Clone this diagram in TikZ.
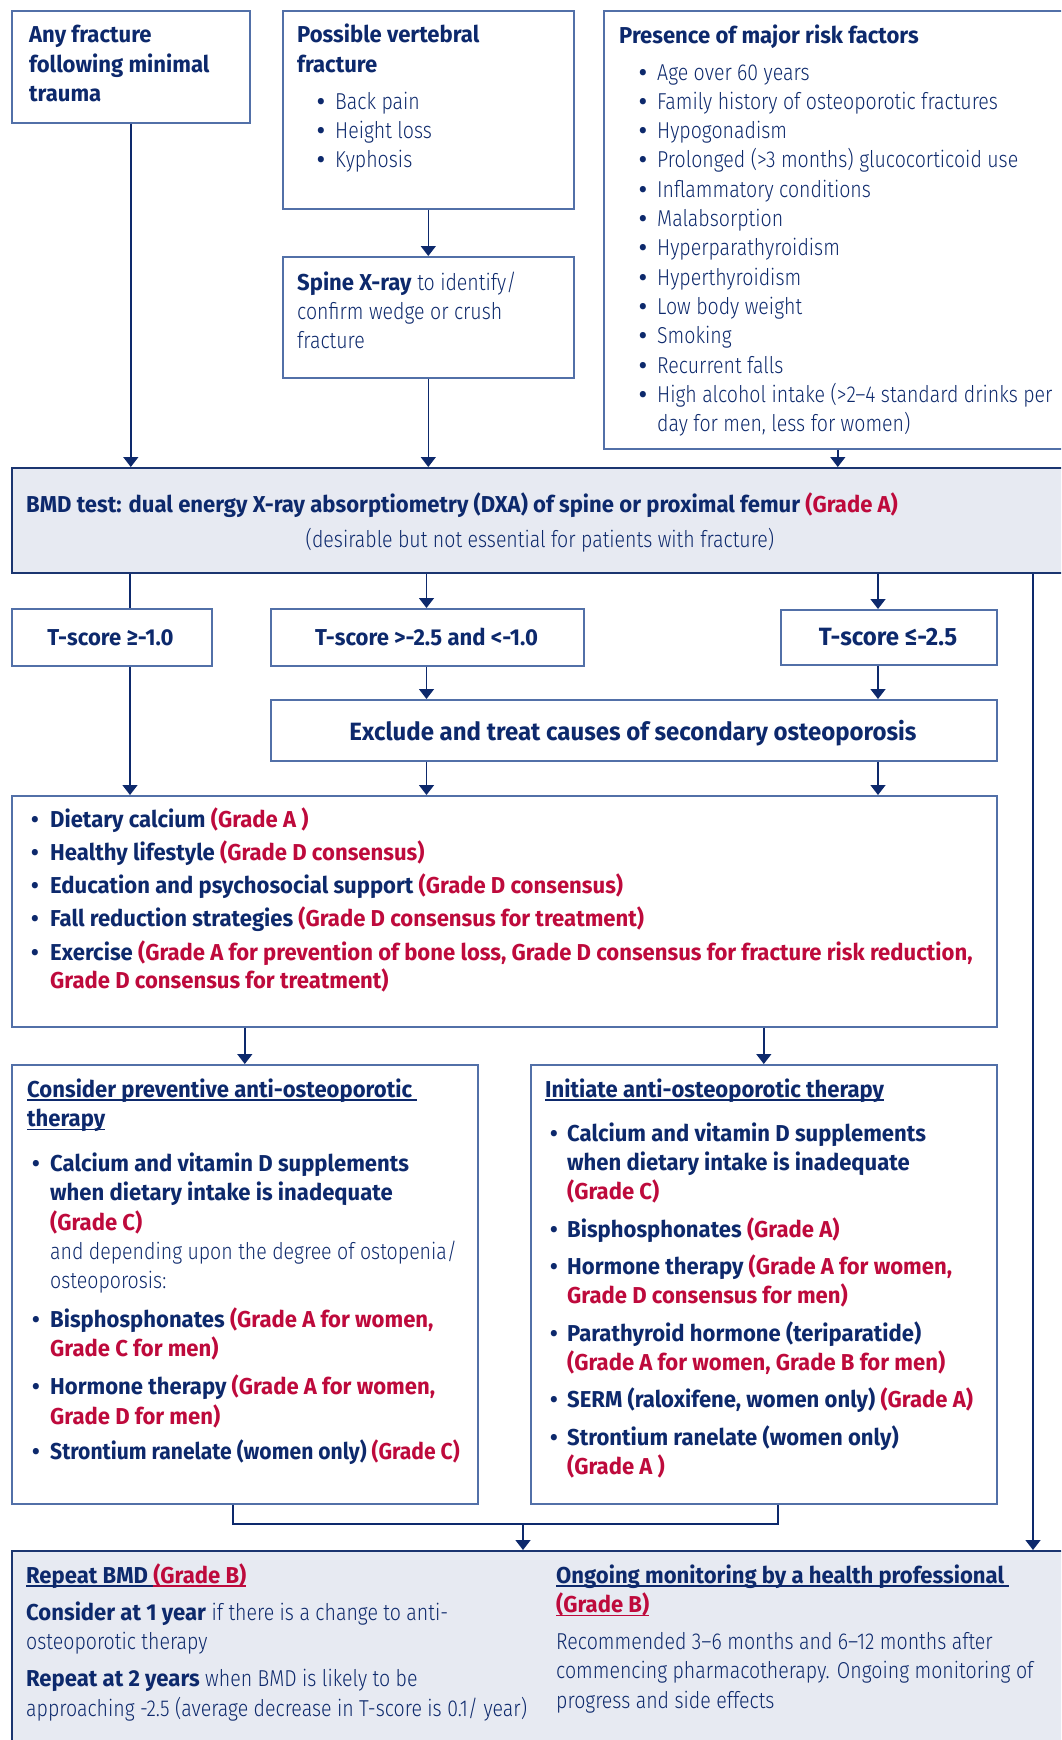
\documentclass[tikz,border=0pt]{standalone}
\usepackage{fontspec}
\usepackage{graphicx}
\setmainfont{Fira Sans}[UprightFont=* Light, BoldFont=* Bold, UprightFeatures={FakeStretch=0.85}, BoldFeatures={FakeStretch=0.96}]
\usetikzlibrary{arrows.meta}
\definecolor{navy}{HTML}{0D296C}
\definecolor{gred}{HTML}{BE0A3C}
\definecolor{bord}{HTML}{5270A8}
\definecolor{dbord}{HTML}{1B3570}
\definecolor{lfill}{HTML}{E7EAF2}
\newcommand\rd[1]{\textcolor{gred}{#1}}
\newcommand\myul[1]{\setbox0\hbox{#1}\rlap{\rule[-3.5pt]{\wd0}{1.3pt}}\box0}
\newcommand\bul[2]{\hspace*{#1}\makebox[#2][l]{\textbf{•}}}
\newcommand\cnt[1]{\hspace*{#1}}
\newcommand\fsz{\fontsize{23}{29.3}\selectfont}
\newcommand\tb[1]{\begin{tabular}[t]{@{}l@{}}#1\end{tabular}}
\begin{document}
\begin{tikzpicture}[x=1pt,y=-1pt,
  box/.style={draw=bord, line width=1.6pt, anchor=north west, inner sep=0pt},
  gbox/.style={box, draw=dbord, fill=lfill},
  txt/.style={anchor=base west, inner sep=0pt, text=navy, font=\fsz},
  btxt/.style={txt, font=\fsz\bfseries},
  ctxt/.style={txt, anchor=base},
  conn/.style={draw=navy, line width=1.5pt},
  arr/.style={conn, -{Triangle[width=15pt,length=10pt]}},
]
\clip (0,0) rectangle (1061,1740);
% boxes
\node[box, minimum width=238pt, minimum height=112pt] (b1) at (11,10) {};
\node[box, minimum width=291pt, minimum height=198pt] (b2) at (282,10) {};
\node[box, minimum width=291pt, minimum height=121pt] (bx) at (282,256) {};
\node[box, minimum width=468pt, minimum height=438pt] (br) at (603,10) {};
\node[gbox, minimum width=1070pt, minimum height=105pt] (bmd) at (11,467) {};
\node[box, minimum width=200pt, minimum height=57pt] (t1) at (11,608) {};
\node[box, minimum width=313pt, minimum height=57pt] (t2) at (270,608) {};
\node[box, minimum width=216pt, minimum height=55pt] (t3) at (780,609) {};
\node[box, minimum width=726pt, minimum height=61pt] (ex) at (270,699) {};
\node[box, minimum width=985pt, minimum height=231pt] (diet) at (11,795) {};
\node[box, minimum width=466pt, minimum height=439pt] (cl) at (11,1064) {};
\node[box, minimum width=466pt, minimum height=439pt] (cr) at (530,1064) {};
\node[gbox, minimum width=1070pt, minimum height=220pt] (bot) at (11,1550) {};
% coordinates
\coordinate (c1) at (130,0);
\coordinate (c2) at (426.5,0);
\coordinate (c3) at (878,0);
\coordinate (c4) at (1033,0);
\coordinate (jl) at (233,1524);
\coordinate (jr) at (778,1524);
\coordinate (jm) at (523,1524);
% connectors
\draw[arr] (b1.south) -- (b1.south |- bmd.north);
\draw[arr] (b2.south) -- (bx.north);
\draw[arr] (bx.south) -- (bx.south |- bmd.north);
\draw[arr] (br.south) -- (br.south |- bmd.north);
\draw[conn] (bmd.south -| c1) -- (t1.north -| c1);
\draw[arr] (bmd.south -| c2) -- (t2.north -| c2);
\draw[arr] (bmd.south -| c3) -- (t3.north -| c3);
\draw[arr] (t2.south -| c2) -- (ex.north -| c2);
\draw[arr] (t3.south -| c3) -- (ex.north -| c3);
\draw[arr] (t1.south -| c1) -- (diet.north -| c1);
\draw[arr] (ex.south -| c2) -- (diet.north -| c2);
\draw[arr] (ex.south -| c3) -- (diet.north -| c3);
\draw[arr] (bmd.south -| c4) -- (bot.north -| c4);
\draw[arr] (diet.south -| cl.north) -- (cl.north);
\draw[arr] (diet.south -| cr.north) -- (cr.north);
\draw[conn] (cl.south -| jl) -- (jl) -- (jr) -- (cr.south -| jr);
\draw[arr] (jm) -- (bot.north -| jm);
% texts
\node[btxt] (tb1) at (29,42.7) {\tb{Any fracture\\following minimal\\trauma}};
\node[txt] (tb2) at (297,42.7) {\tb{\textbf{Possible vertebral}\\\textbf{fracture}\\[8pt]
\bul{20pt}{18pt}Back pain\\ \bul{20pt}{18pt}Height loss\\ \bul{20pt}{18pt}Kyphosis}};
\node[txt] (tbx) at (297,290) {\tb{\textbf{Spine X-ray} to identify/\\confirm wedge or crush\\fracture}};
\node[txt] (tbr) at (619,43) {\tb{\textbf{Presence of major risk factors}\\[7.7pt]
\bul{20pt}{18pt}Age over 60 years\\
\bul{20pt}{18pt}Family history of osteoporotic fractures\\
\bul{20pt}{18pt}Hypogonadism\\
\bul{20pt}{18pt}Prolonged (>3 months) glucocorticoid use\\
\bul{20pt}{18pt}Inflammatory conditions\\
\bul{20pt}{18pt}Malabsorption\\
\bul{20pt}{18pt}Hyperparathyroidism\\
\bul{20pt}{18pt}Hyperthyroidism\\
\bul{20pt}{18pt}Low body weight\\
\bul{20pt}{18pt}Smoking\\
\bul{20pt}{18pt}Recurrent falls\\
\bul{20pt}{18pt}High alcohol intake (>2–4 standard drinks per\\
\cnt{38pt}day for men, less for women)}};
\node[btxt] (tbmd) at (26,512) {BMD test: dual energy X-ray absorptiometry (DXA) of spine or proximal femur \rd{(Grade A)}};
\node[ctxt] (tbmd2) at (540,547) {(desirable but not essential for patients with fracture)};
\node[ctxt, font=\fsz\bfseries] (tt1) at (110.5,645) {T-score ≥-1.0};
\node[ctxt, font=\fsz\bfseries] (tt2) at (426.5,645) {T-score >-2.5 and <-1.0};
\node[ctxt, font=\fontsize{25}{30}\selectfont\bfseries] (tt3) at (888,645) {T-score ≤-2.5};
\node[ctxt, font=\fontsize{25}{30}\selectfont\bfseries] (tex) at (633,740) {Exclude and treat causes of secondary osteoporosis};
\node[txt, font=\fontsize{23}{28.6}\selectfont\bfseries] (tdiet) at (31,827) {\tb{%
\bul{0pt}{19pt}Dietary calcium \rd{(Grade A )}\\[4.7pt]
\bul{0pt}{19pt}Healthy lifestyle \rd{(Grade D consensus)}\\[4.7pt]
\bul{0pt}{19pt}Education and psychosocial support \rd{(Grade D consensus)}\\[4.7pt]
\bul{0pt}{19pt}Fall reduction strategies \rd{(Grade D consensus for treatment)}\\[4.7pt]
\bul{0pt}{19pt}Exercise \rd{(Grade A for prevention of bone loss, Grade D consensus for fracture risk reduction,}\\
\cnt{19pt}\rd{Grade D consensus for treatment)}}};
\node[btxt] (tcl) at (27,1097) {\tb{\myul{Consider preventive anti-osteoporotic\ }\\ \myul{therapy}\\[16pt]
\bul{5pt}{18pt}Calcium and vitamin D supplements\\
\cnt{23pt}when dietary intake is inadequate\\
\cnt{23pt}\rd{(Grade C)}\\
\cnt{23pt}\mdseries and depending upon the degree of ostopenia/\\
\cnt{23pt}\mdseries osteoporosis:\\[9pt]
\bul{5pt}{18pt}Bisphosphonates \rd{(Grade A for women,}\\
\cnt{23pt}\rd{Grade C for men)}\\[9pt]
\bul{5pt}{18pt}Hormone therapy \rd{(Grade A for women,}\\
\cnt{23pt}\rd{Grade D for men)}\\[6pt]
\bul{5pt}{18pt}\scalebox{0.955}[1]{Strontium ranelate (women only) \rd{(Grade C)}}}};
\node[btxt] (tcr) at (545,1097) {\tb{\myul{Initiate anti-osteoporotic therapy}\\[15pt]
\bul{5pt}{17pt}Calcium and vitamin D supplements\\
\cnt{22pt}when dietary intake is inadequate\\
\cnt{22pt}\rd{(Grade C)}\\[8pt]
\bul{5pt}{17pt}Bisphosphonates \rd{(Grade A)}\\[8pt]
\bul{5pt}{17pt}Hormone therapy \rd{(Grade A for women,}\\
\cnt{22pt}\rd{Grade D consensus for men)}\\[8pt]
\bul{5pt}{17pt}Parathyroid hormone (teriparatide)\\
\cnt{22pt}\rd{(Grade A for women, Grade B for men)}\\[8pt]
\bul{5pt}{17pt}SERM (raloxifene, women only) \rd{(Grade A)}\\[8pt]
\bul{5pt}{17pt}Strontium ranelate (women only)\\
\cnt{22pt}\rd{(Grade A )}}};
\node[txt] (tbl) at (26,1583) {\tb{\textbf{\myul{Repeat BMD\ }\rd{\myul{(Grade B)}}}\\[8pt]
\textbf{Consider at 1 year} if there is a change to anti-\\
osteoporotic therapy\\[8pt]
\textbf{Repeat at 2 years} when BMD is likely to be\\
approaching -2.5 (average decrease in T-score is 0.1/ year)}};
\node[txt] (tbr2) at (556,1583) {\tb{\textbf{\myul{Ongoing monitoring by a health professional\ }}\\
\textbf{\rd{\myul{(Grade B)}}}\\[8pt]
Recommended 3–6 months and 6–12 months after\\
commencing pharmacotherapy. Ongoing monitoring of\\
progress and side effects}};
\end{tikzpicture}
\end{document}
